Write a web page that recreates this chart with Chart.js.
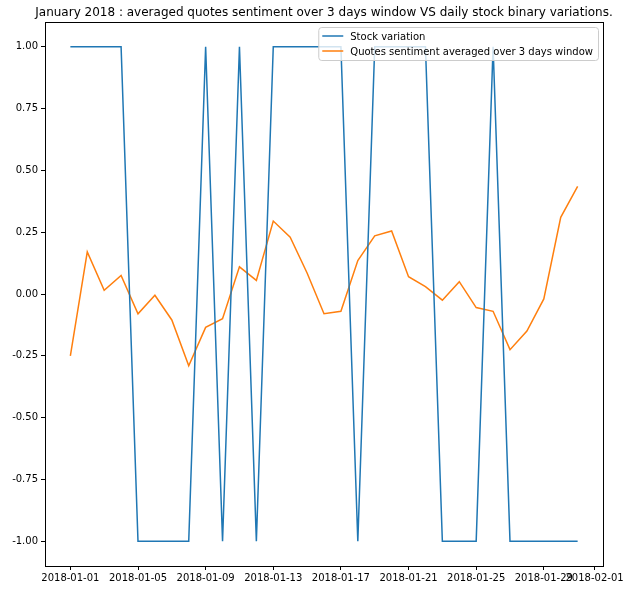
<!DOCTYPE html>
<html>
<head>
<meta charset="utf-8">
<script src="https://cdn.jsdelivr.net/npm/chart.js@4.4.1/dist/chart.umd.min.js"></script>
<style>
  html, body { margin: 0; padding: 0; background: #fff; }
  #wrap { width: 630px; height: 590px; }
</style>
</head>
<body>
<div id="wrap"><canvas id="chart" width="630" height="590"></canvas></div>
<script>
// day index 0 = 2018-01-01
const days = Array.from({ length: 31 }, (_, i) => i);
const stockVariation = [1, 1, 1, 1, -1, -1, -1, -1, 1, -1, 1, -1, 1, 1, 1, 1, 1, -1, 1, 1, 1, 1, -1, -1, -1, 1, -1, -1, -1, -1, -1];
const sentiment = [-0.25, 0.17, 0.015, 0.075, -0.08, -0.005, -0.105, -0.29, -0.135, -0.10, 0.11, 0.055, 0.295, 0.23, 0.085, -0.08, -0.07, 0.135, 0.235, 0.255, 0.07, 0.03, -0.025, 0.05, -0.055, -0.07, -0.225, -0.15, -0.02, 0.31, 0.435];
const xTickPos = [0, 4, 8, 12, 16, 20, 24, 28, 31];
const xTickLabels = ['2018-01-01', '2018-01-05', '2018-01-09', '2018-01-13', '2018-01-17', '2018-01-21', '2018-01-25', '2018-01-29', '2018-02-01'];
const yTicks = [-1, -0.75, -0.5, -0.25, 0, 0.25, 0.5, 0.75, 1];
const title = 'January 2018 : averaged quotes sentiment over 3 days window VS daily stock binary variations.';

const FONT = 'DejaVu Sans';

const toPoints = (vals) => vals.map((v, i) => ({ x: days[i], y: v }));

const mplPlugin = {
  id: 'mpl',
  afterDraw(chart) {
    const { ctx, chartArea: a } = chart;
    ctx.save();
    // frame
    ctx.strokeStyle = '#000';
    ctx.lineWidth = 1;
    ctx.strokeRect(Math.round(a.left) + 0.5, Math.round(a.top) + 0.5, Math.round(a.right - a.left), Math.round(a.bottom - a.top));
    // title
    ctx.fillStyle = '#000';
    ctx.font = '12px "' + FONT + '"';
    ctx.textAlign = 'center';
    ctx.textBaseline = 'alphabetic';
    ctx.fillText(title, (a.left + a.right) / 2, 16);
    // legend
    const ds = chart.data.datasets;
    ctx.font = '10px "' + FONT + '"';
    const textW = Math.max(...ds.map((d) => ctx.measureText(d.label).width));
    const bw = textW + 37;
    const bh = 33;
    const bx = a.right - 5 - bw;
    const by = a.top + 5;
    ctx.beginPath();
    ctx.roundRect(bx + 0.5, by + 0.5, bw, bh, 3);
    ctx.fillStyle = 'rgba(255,255,255,0.8)';
    ctx.fill();
    ctx.strokeStyle = '#cccccc';
    ctx.stroke();
    ds.forEach((d, i) => {
      const yy = by + 9 + i * 15;
      ctx.strokeStyle = d.borderColor;
      ctx.lineWidth = 1.5;
      ctx.beginPath();
      ctx.moveTo(bx + 4, yy);
      ctx.lineTo(bx + 25, yy);
      ctx.stroke();
      ctx.fillStyle = '#000';
      ctx.textAlign = 'left';
      ctx.textBaseline = 'middle';
      ctx.fillText(d.label, bx + 32, yy + 1);
    });
    ctx.restore();
  },
};

new Chart(document.getElementById('chart'), {
  type: 'line',
  data: {
    datasets: [
      { label: 'Stock variation', data: toPoints(stockVariation), borderColor: '#1f77b4', borderWidth: 1.5, pointRadius: 0, tension: 0 },
      { label: 'Quotes sentiment averaged over 3 days window', data: toPoints(sentiment), borderColor: '#ff7f0e', borderWidth: 1.5, pointRadius: 0, tension: 0 },
    ],
  },
  options: {
    responsive: false,
    animation: false,
    layout: { padding: { top: 22, right: 27, left: 0, bottom: 0 } },
    plugins: { legend: { display: false }, title: { display: false }, tooltip: { enabled: false } },
    scales: {
      x: {
        type: 'linear',
        min: -1.5,
        max: 31.5,
        afterBuildTicks: (scale) => { scale.ticks = xTickPos.map((v) => ({ value: v })); },
        afterFit: (scale) => { scale.height = 24; },
        ticks: {
          autoSkip: false,
          maxRotation: 0,
          padding: 2,
          color: '#000',
          font: { family: FONT, size: 10 },
          callback: (v) => xTickLabels[xTickPos.indexOf(v)],
        },
        grid: { display: true, drawOnChartArea: false, drawTicks: true, tickLength: 4, color: '#000' },
        border: { display: true, color: '#000' },
      },
      y: {
        min: -1.1,
        max: 1.1,
        afterBuildTicks: (scale) => { scale.ticks = yTicks.map((v) => ({ value: v })); },
        afterFit: (scale) => { scale.width = 45; },
        ticks: {
          padding: 3,
          color: '#000',
          font: { family: FONT, size: 10 },
          callback: (v) => v.toFixed(2),
        },
        grid: { display: true, drawOnChartArea: false, drawTicks: true, tickLength: 4, color: '#000' },
        border: { display: true, color: '#000' },
      },
    },
  },
  plugins: [mplPlugin],
});
</script>
</body>
</html>
